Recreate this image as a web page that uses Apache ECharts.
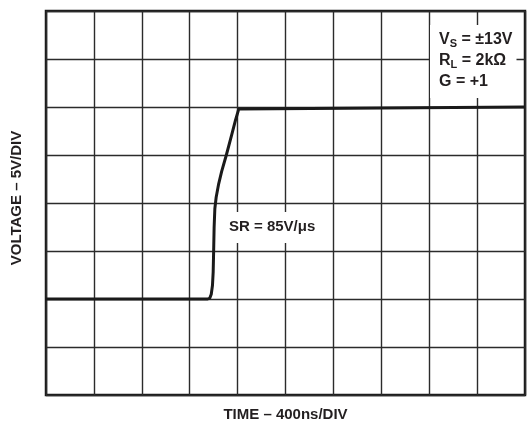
<!DOCTYPE html>
<html>
<head>
<meta charset="utf-8">
<script src="https://cdn.jsdelivr.net/npm/echarts@6/dist/echarts.min.js"></script>
<style>html,body{margin:0;padding:0;background:#fff;}#c{width:530px;height:424px;}</style>
</head>
<body>
<div id="c"></div>
<script>
// Time in ns (400 ns/div), voltage in V (5 V/div)
const timeNs = [0, 1350, 1368, 1380, 1390, 1396, 1400, 1404, 1410, 1421, 1442, 1467, 1506, 1550, 1583, 1610, 1620, 4000];
const voltage = [-10, -10, -9.9, -9.5, -8.6, -7.2, -5.0, -2.5, -0.6, 0.6, 2.0, 3.3, 5, 7.08, 8.65, 9.8, 10, 10];
const xTitle = 'TIME – 400ns/DIV';
const yTitle = 'VOLTAGE – 5V/DIV';

const chart = echarts.init(document.getElementById('c'), null, {renderer: 'canvas'});
const font = '"Liberation Sans", Arial, Helvetica, sans-serif';
const gridColor = '#2b2b2b';
chart.setOption({
  animation: false,
  backgroundColor: '#fff',
  grid: {left: 46, right: 5, top: 11, bottom: 29, show: true, borderColor: '#1a1a1a', borderWidth: 2.5,
         backgroundColor: 'transparent', containLabel: false, outerBoundsMode: 'none'},
  xAxis: {
    type: 'value', min: 0, max: 4000, interval: 400,
    name: xTitle, nameLocation: 'middle', nameGap: 12,
    nameTextStyle: {fontFamily: font, fontWeight: 'bold', fontSize: 15, color: '#231f20'},
    axisLine: {show: false}, axisTick: {show: false}, axisLabel: {show: false},
    splitLine: {show: true, lineStyle: {color: gridColor, width: 1.4}}
  },
  yAxis: {
    type: 'value', min: -20, max: 20, interval: 5,
    axisLine: {show: false}, axisTick: {show: false}, axisLabel: {show: false},
    splitLine: {show: true, lineStyle: {color: gridColor, width: 1.4}}
  },
  series: [{
    type: 'line', data: timeNs.map((t, i) => [t, voltage[i]]),
    showSymbol: false, smooth: false,
    lineStyle: {color: '#1a1a1a', width: 3, join: 'round'},
    z: 5
  }],
  graphic: [
    {
      type: 'text', x: 17, y: 198, rotation: Math.PI / 2, z: 100,
      style: {
        text: yTitle, fontFamily: font, fontWeight: 'bold', fontSize: 15, fill: '#231f20',
        align: 'center', verticalAlign: 'middle'
      }
    },
    {
      type: 'text', left: 218, top: 212, z: 100,
      style: {
        text: 'SR = 85V/μs', fontFamily: font, fontWeight: 'bold', fontSize: 15, fill: '#231f20',
        backgroundColor: '#fff', padding: [7, 6, 9, 11]
      }
    },
    {
      type: 'text', left: 430, top: 25, z: 100,
      style: {
        text: 'V{s|S} = ±13V\nR{s|L} = 2kΩ\nG = +1',
        fontFamily: font, fontWeight: 'bold', fontSize: 16, fill: '#231f20', lineHeight: 21,
        backgroundColor: '#fff', padding: [4, 4, 6, 9],
        rich: {
          s: {fontFamily: font, fontWeight: 'bold', fontSize: 11, fill: '#231f20', padding: [8, 0, 0, 0], lineHeight: 21}
        }
      }
    }
  ]
});
</script>
</body>
</html>
